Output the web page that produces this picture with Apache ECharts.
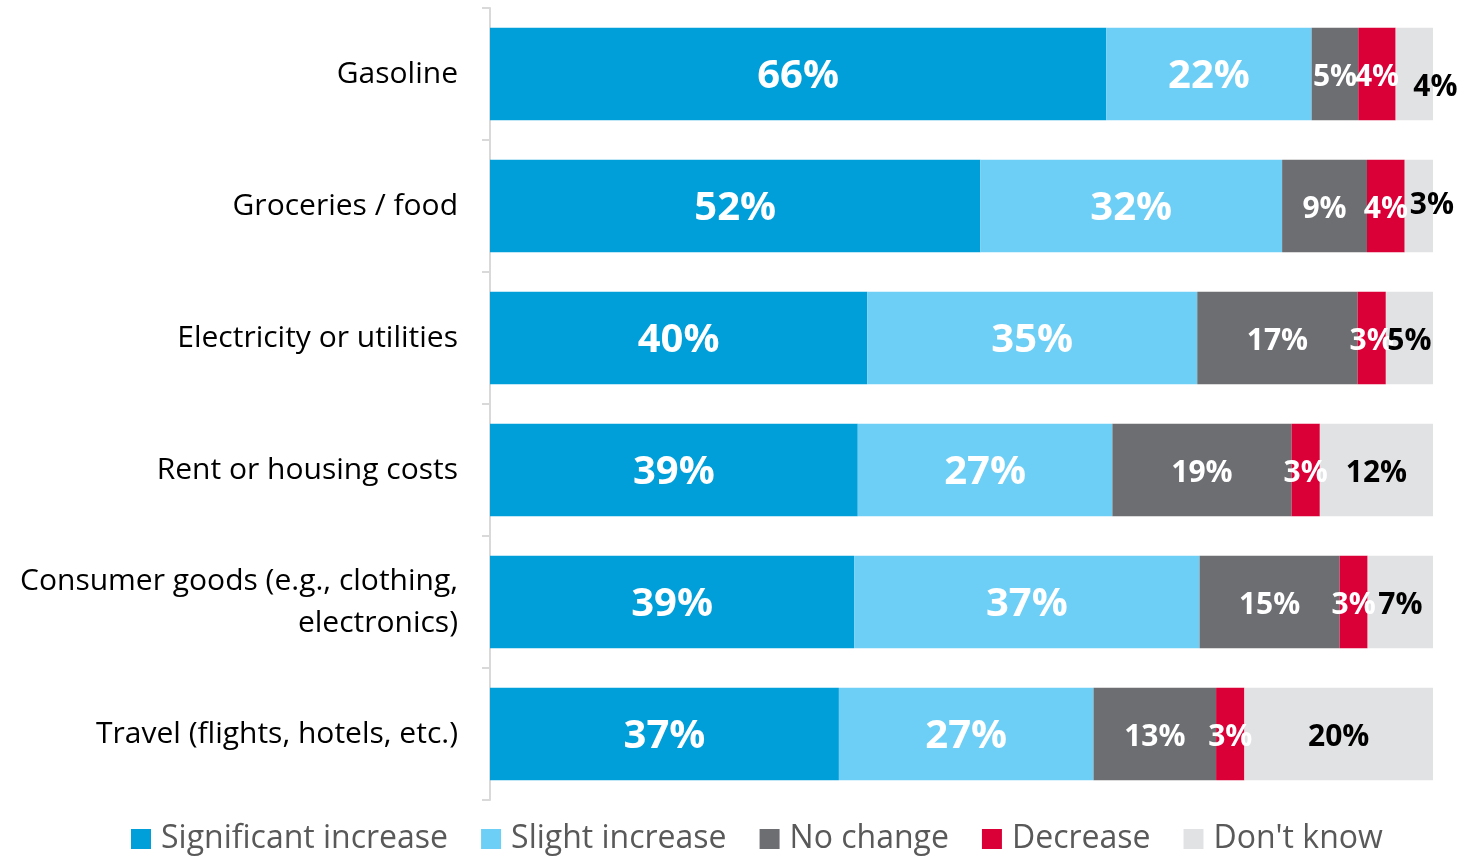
<!DOCTYPE html>
<html>
<head>
<meta charset="utf-8">
<title>Expected price changes</title>
<script src="https://cdn.jsdelivr.net/npm/echarts@6/dist/echarts.min.js"></script>
<style>
  html, body { margin: 0; padding: 0; background: #fff; }
  #chart { width: 1458px; height: 856px; }
</style>
</head>
<body>
<div id="chart"></div>
<script>
// categories, top to bottom
var categories = [
  'Gasoline',
  'Groceries / food',
  'Electricity or utilities',
  'Rent or housing costs',
  'Consumer goods (e.g., clothing,\nelectronics)',
  'Travel (flights, hotels, etc.)'
];
var seriesNames = ['Significant increase', 'Slight increase', 'No change', 'Decrease', "Don't know"];

// shown percentages per answer
var significant = [66, 52, 40, 39, 39, 37];
var slight      = [22, 32, 35, 27, 37, 27];
var noChange    = [5, 9, 17, 19, 15, 13];
var decrease    = [4, 4, 3, 3, 3, 3];
var dontKnow    = [4, 3, 5, 12, 7, 20];

var colors = ['#009FDA', '#6DCFF6', '#6D6E71', '#DA0037', '#E1E2E4'];
var allData = [significant, slight, noChange, decrease, dontKnow];

// rows don't always add to exactly 100 (rounding), so each bar is scaled to full width
var rowTotals = categories.map(function (c, i) {
  return allData.reduce(function (s, arr) { return s + arr[i]; }, 0);
});

var FONT = '"Open Sans", sans-serif';

var series = allData.map(function (arr, k) {
  return {
    name: seriesNames[k],
    type: 'bar',
    stack: 'total',
    barCategoryGap: '30%',
    itemStyle: { color: colors[k] },
    label: {
      show: true,
      position: 'inside',
      offset: [0, 3],
      color: k === 4 ? '#000' : '#fff',
      fontFamily: FONT,
      fontWeight: 'bold',
      fontSize: k < 2 ? 40 : 30,
      formatter: function (p) { return arr[p.dataIndex] + '%'; }
    },
    data: arr.map(function (v, i) {
      var item = { value: v / rowTotals[i] * 100 };
      // excel-style nudged labels on the thin "don't know" segments
      if (k === 4 && i === 0) item.label = { offset: [21, 13] };
      if (k === 4 && i === 1) item.label = { offset: [13, -1] };
      return item;
    })
  };
});

var chart = echarts.init(document.getElementById('chart'));
var option = {
  animation: false,
  grid: { left: 490, right: 25, top: 8, bottom: 56, containLabel: false },
  legend: {
    data: seriesNames,
    left: 126,
    top: 818,
    itemWidth: 20,
    itemHeight: 20,
    itemGap: 33,
    icon: 'rect',
    textStyle: { color: '#595959', fontSize: 32, fontFamily: FONT, padding: [0, 0, 0, 5] }
  },
  xAxis: {
    type: 'value',
    min: 0,
    max: 100,
    show: false
  },
  yAxis: {
    type: 'category',
    data: categories,
    inverse: true,
    axisLine: { show: true, lineStyle: { color: '#D9D9D9', width: 2 } },
    axisTick: { show: true, length: 8, lineStyle: { color: '#D9D9D9', width: 2 } },
    axisLabel: {
      color: '#000',
      fontSize: 30,
      fontFamily: FONT,
      margin: 32,
      align: 'right',
      lineHeight: 42
    }
  },
  series: series
};
chart.setOption(option);
</script>
</body>
</html>
